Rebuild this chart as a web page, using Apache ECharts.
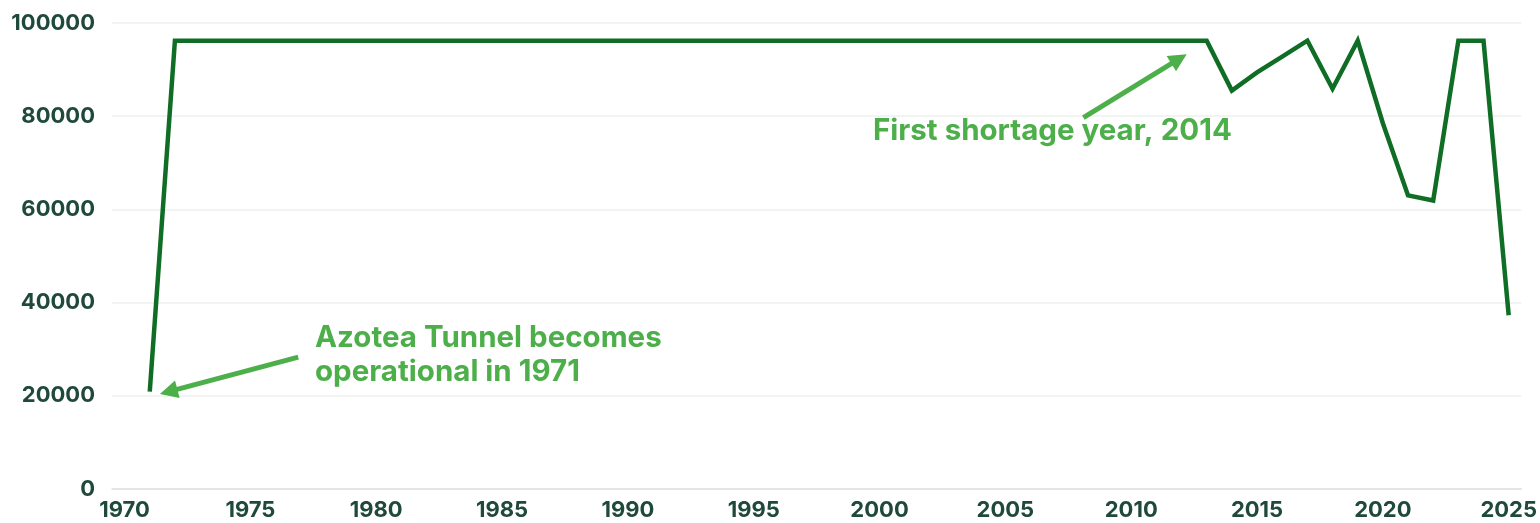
<!DOCTYPE html>
<html>
<head>
<meta charset="utf-8">
<script src="https://cdn.jsdelivr.net/npm/echarts@6/dist/echarts.min.js"></script>
<style>
  html, body { margin: 0; padding: 0; background: #fff; }
  #chart { width: 1540px; height: 523px; }
</style>
</head>
<body>
<div id="chart"></div>
<script>
// years and acre-feet
var years = [
  1971, 1972, 1973, 1974, 1975, 1976, 1977, 1978, 1979, 1980,
  1981, 1982, 1983, 1984, 1985, 1986, 1987, 1988, 1989, 1990,
  1991, 1992, 1993, 1994, 1995, 1996, 1997, 1998, 1999, 2000,
  2001, 2002, 2003, 2004, 2005, 2006, 2007, 2008, 2009, 2010,
  2011, 2012, 2013, 2014, 2015, 2016, 2017, 2018, 2019, 2020,
  2021, 2022, 2023, 2024, 2025
];
var values = [
  20900, 96200, 96200, 96200, 96200, 96200, 96200, 96200, 96200, 96200,
  96200, 96200, 96200, 96200, 96200, 96200, 96200, 96200, 96200, 96200,
  96200, 96200, 96200, 96200, 96200, 96200, 96200, 96200, 96200, 96200,
  96200, 96200, 96200, 96200, 96200, 96200, 96200, 96200, 96200, 96200,
  96200, 96200, 96200, 85500, 89400, 92800, 96200, 85900, 96200, 78500,
  63000, 61900, 96200, 96200, 37300
];
var xTicks = [1970, 1975, 1980, 1985, 1990, 1995, 2000, 2005, 2010, 2015, 2020, 2025];
var yTicks = [0, 20000, 40000, 60000, 80000, 100000];

// annotation arrows, [tail, tip] in data space
var arrowTunnel = [[1976.9, 28300], [1971.75, 20900]];
var arrowShortage = [[2008.1, 79700], [2011.9, 92300]];

var labelColor = "#1f4a3b";
var lineColor = "#106d25";
var noteColor = "#4caf4a";

var chartDom = document.getElementById("chart");
var myChart = echarts.init(chartDom);
var option;

var seriesData = years.map(function (y, i) {
  return [y, values[i]];
});

option = {
  animation: false,
  grid: {
    left: 112,
    right: 18,
    top: 23,
    bottom: 34,
    containLabel: false,
  },
  xAxis: {
    type: "value",
    min: 1969.5,
    max: 2025.5,
    axisLine: { show: true, lineStyle: { color: "#dde2df", width: 1.5 } },
    axisTick: { show: false },
    splitLine: { show: false },
    axisLabel: {
      customValues: xTicks,
      color: labelColor,
      fontFamily: "Inter",
      fontWeight: "bold",
      fontSize: 22,
      margin: 10,
      formatter: function (v) {
        return String(v);
      },
    },
  },
  yAxis: {
    type: "value",
    min: yTicks[0],
    max: yTicks[yTicks.length - 1],
    interval: 20000,
    axisLine: { show: false },
    axisTick: { show: false },
    splitLine: { lineStyle: { color: "#eef0ef", width: 1.5 } },
    axisLabel: {
      color: labelColor,
      fontFamily: "Inter",
      fontWeight: "bold",
      fontSize: 22,
      margin: 17,
      formatter: function (v) {
        return String(v);
      },
    },
  },
  graphic: [
    {
      type: "text",
      left: 873,
      top: 116,
      style: {
        text: "First shortage year, 2014",
        fill: noteColor,
        font: "bold 29.5px Inter",
      },
    },
    {
      type: "text",
      left: 315,
      top: 321,
      style: {
        text: "Azotea Tunnel becomes\noperational in 1971",
        fill: noteColor,
        font: "bold 29.5px Inter",
        lineHeight: 34,
      },
    },
  ],
  series: [
    {
      name: "Azotea Tunnel",
      type: "line",
      data: seriesData,
      showSymbol: false,
      lineStyle: { color: lineColor, width: 4.5, join: "miter" },
      markLine: {
        silent: true,
        symbol: ["none", "triangle"],
        symbolSize: [18, 18],
        label: { show: false },
        lineStyle: { color: noteColor, width: 5, type: "solid" },
        data: [
          [
            { coord: arrowTunnel[0], symbol: "none" },
            { coord: arrowTunnel[1] },
          ],
          [
            { coord: arrowShortage[0], symbol: "none" },
            { coord: arrowShortage[1] },
          ],
        ],
      },
    },
  ],
};

myChart.setOption(option);
</script>
</body>
</html>
